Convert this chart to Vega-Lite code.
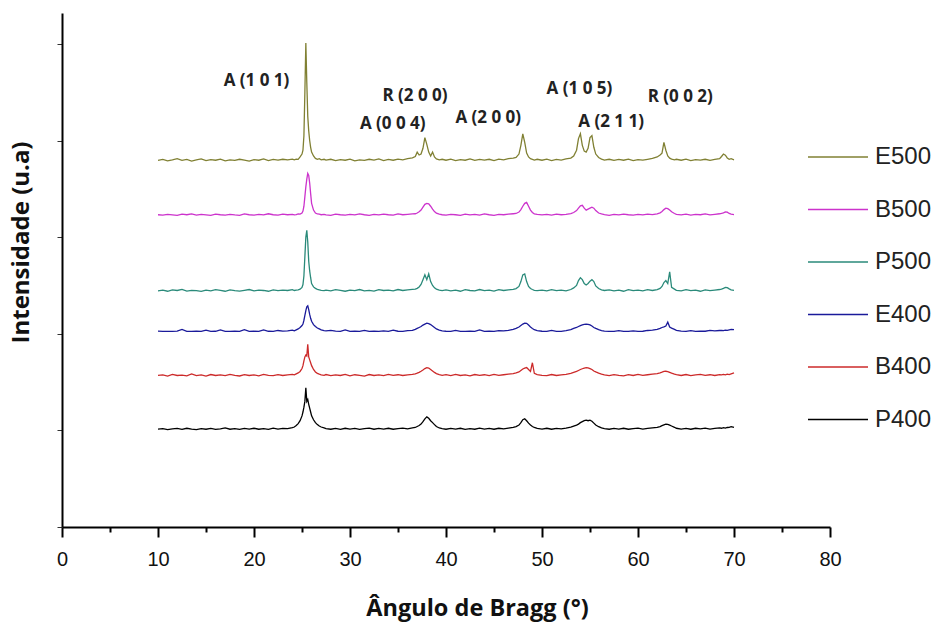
{
  "$schema": "https://vega.github.io/schema/vega-lite/v6.json",
  "width": 768,
  "height": 514,
  "autosize": "none",
  "padding": {"left": 62, "top": 13, "right": 110, "bottom": 95},
  "background": "white",
  "config": {"view": {"stroke": null}, "font": "Liberation Sans"},
  "datasets": {
    "xrd": [
      {"x":10.0,"E500":3.795,"B500":3.232,"P500":2.445,"E400":2.027,"B400":1.570,"P400":1.012},
      {"x":10.5,"E500":3.805,"B500":3.228,"P500":2.452,"E400":2.025,"B400":1.575,"P400":1.018},
      {"x":11.0,"E500":3.790,"B500":3.236,"P500":2.440,"E400":2.025,"B400":1.562,"P400":1.008},
      {"x":11.5,"E500":3.800,"B500":3.230,"P500":2.455,"E400":2.025,"B400":1.580,"P400":1.015},
      {"x":12.0,"E500":3.812,"B500":3.225,"P500":2.448,"E400":2.027,"B400":1.568,"P400":1.020},
      {"x":12.5,"E500":3.795,"B500":3.238,"P500":2.460,"E400":2.045,"B400":1.572,"P400":1.010},
      {"x":13.0,"E500":3.805,"B500":3.232,"P500":2.442,"E400":2.025,"B400":1.565,"P400":1.022},
      {"x":13.5,"E500":3.788,"B500":3.240,"P500":2.450,"E400":2.025,"B400":1.585,"P400":1.012},
      {"x":14.0,"E500":3.800,"B500":3.228,"P500":2.446,"E400":2.026,"B400":1.566,"P400":1.008},
      {"x":14.5,"E500":3.810,"B500":3.235,"P500":2.438,"E400":2.025,"B400":1.574,"P400":1.018},
      {"x":15.0,"E500":3.792,"B500":3.230,"P500":2.452,"E400":2.038,"B400":1.562,"P400":1.012},
      {"x":15.5,"E500":3.802,"B500":3.226,"P500":2.444,"E400":2.025,"B400":1.578,"P400":1.020},
      {"x":16.0,"E500":3.796,"B500":3.238,"P500":2.456,"E400":2.026,"B400":1.568,"P400":1.010},
      {"x":16.5,"E500":3.808,"B500":3.232,"P500":2.448,"E400":2.040,"B400":1.575,"P400":1.016},
      {"x":17.0,"E500":3.790,"B500":3.228,"P500":2.440,"E400":2.025,"B400":1.566,"P400":1.025},
      {"x":17.5,"E500":3.800,"B500":3.236,"P500":2.454,"E400":2.025,"B400":1.580,"P400":1.012},
      {"x":18.0,"E500":3.794,"B500":3.230,"P500":2.446,"E400":2.028,"B400":1.570,"P400":1.018},
      {"x":18.5,"E500":3.806,"B500":3.226,"P500":2.442,"E400":2.025,"B400":1.563,"P400":1.010},
      {"x":19.0,"E500":3.798,"B500":3.240,"P500":2.450,"E400":2.042,"B400":1.576,"P400":1.020},
      {"x":19.5,"E500":3.788,"B500":3.232,"P500":2.458,"E400":2.025,"B400":1.568,"P400":1.014},
      {"x":20.0,"E500":3.802,"B500":3.228,"P500":2.444,"E400":2.026,"B400":1.574,"P400":1.022},
      {"x":20.5,"E500":3.796,"B500":3.236,"P500":2.452,"E400":2.025,"B400":1.565,"P400":1.012},
      {"x":21.0,"E500":3.810,"B500":3.230,"P500":2.448,"E400":2.040,"B400":1.580,"P400":1.018},
      {"x":21.5,"E500":3.792,"B500":3.242,"P500":2.440,"E400":2.026,"B400":1.570,"P400":1.010},
      {"x":22.0,"E500":3.804,"B500":3.232,"P500":2.455,"E400":2.025,"B400":1.566,"P400":1.024},
      {"x":22.5,"E500":3.798,"B500":3.228,"P500":2.446,"E400":2.034,"B400":1.576,"P400":1.014},
      {"x":23.0,"E500":3.806,"B500":3.238,"P500":2.452,"E400":2.027,"B400":1.568,"P400":1.020},
      {"x":23.5,"E500":3.800,"B500":3.232,"P500":2.448,"E400":2.030,"B400":1.574,"P400":1.018},
      {"x":24.0,"E500":3.808,"B500":3.236,"P500":2.456,"E400":2.038,"B400":1.580,"P400":1.028},
      {"x":24.2,"E500":3.800,"B500":3.230,"P500":2.448,"E400":2.030,"B400":1.575,"P400":1.035},
      {"x":24.4,"E500":3.808,"B500":3.234,"P500":2.452,"E400":2.040,"B400":1.585,"P400":1.050},
      {"x":24.6,"E500":3.805,"B500":3.240,"P500":2.455,"E400":2.050,"B400":1.595,"P400":1.070},
      {"x":24.8,"E500":3.830,"B500":3.238,"P500":2.462,"E400":2.065,"B400":1.610,"P400":1.100},
      {"x":25.0,"E500":3.860,"B500":3.250,"P500":2.480,"E400":2.085,"B400":1.640,"P400":1.150},
      {"x":25.1,"E500":3.900,"B500":3.270,"P500":2.510,"E400":2.100,"B400":1.670,"P400":1.190},
      {"x":25.2,"E500":4.050,"B500":3.320,"P500":2.600,"E400":2.140,"B400":1.720,"P400":1.240},
      {"x":25.3,"E500":4.500,"B500":3.420,"P500":2.800,"E400":2.190,"B400":1.760,"P400":1.300},
      {"x":25.4,"E500":5.010,"B500":3.520,"P500":3.000,"E400":2.240,"B400":1.780,"P400":1.440},
      {"x":25.5,"E500":4.600,"B500":3.600,"P500":3.070,"E400":2.280,"B400":1.770,"P400":1.300},
      {"x":25.6,"E500":4.250,"B500":3.660,"P500":2.950,"E400":2.290,"B400":1.890,"P400":1.320},
      {"x":25.7,"E500":4.100,"B500":3.640,"P500":2.750,"E400":2.250,"B400":1.760,"P400":1.270},
      {"x":25.8,"E500":4.000,"B500":3.560,"P500":2.650,"E400":2.200,"B400":1.730,"P400":1.230},
      {"x":25.9,"E500":3.930,"B500":3.450,"P500":2.580,"E400":2.160,"B400":1.700,"P400":1.190},
      {"x":26.0,"E500":3.880,"B500":3.350,"P500":2.520,"E400":2.130,"B400":1.670,"P400":1.150},
      {"x":26.2,"E500":3.840,"B500":3.280,"P500":2.485,"E400":2.095,"B400":1.630,"P400":1.110},
      {"x":26.4,"E500":3.815,"B500":3.250,"P500":2.470,"E400":2.075,"B400":1.605,"P400":1.080},
      {"x":26.6,"E500":3.805,"B500":3.240,"P500":2.460,"E400":2.060,"B400":1.590,"P400":1.060},
      {"x":26.8,"E500":3.812,"B500":3.238,"P500":2.455,"E400":2.050,"B400":1.582,"P400":1.045},
      {"x":27.0,"E500":3.800,"B500":3.232,"P500":2.450,"E400":2.040,"B400":1.575,"P400":1.035},
      {"x":27.3,"E500":3.806,"B500":3.236,"P500":2.446,"E400":2.032,"B400":1.570,"P400":1.025},
      {"x":27.5,"E500":3.798,"B500":3.230,"P500":2.452,"E400":2.030,"B400":1.578,"P400":1.018},
      {"x":28.0,"E500":3.806,"B500":3.226,"P500":2.444,"E400":2.036,"B400":1.566,"P400":1.012},
      {"x":28.5,"E500":3.792,"B500":3.238,"P500":2.456,"E400":2.028,"B400":1.574,"P400":1.020},
      {"x":29.0,"E500":3.802,"B500":3.232,"P500":2.448,"E400":2.025,"B400":1.568,"P400":1.010},
      {"x":29.5,"E500":3.796,"B500":3.228,"P500":2.440,"E400":2.040,"B400":1.580,"P400":1.022},
      {"x":30.0,"E500":3.808,"B500":3.236,"P500":2.452,"E400":2.025,"B400":1.564,"P400":1.014},
      {"x":30.5,"E500":3.790,"B500":3.230,"P500":2.446,"E400":2.026,"B400":1.576,"P400":1.020},
      {"x":31.0,"E500":3.800,"B500":3.240,"P500":2.458,"E400":2.025,"B400":1.570,"P400":1.010},
      {"x":31.5,"E500":3.794,"B500":3.232,"P500":2.444,"E400":2.035,"B400":1.562,"P400":1.018},
      {"x":32.0,"E500":3.806,"B500":3.226,"P500":2.450,"E400":2.025,"B400":1.578,"P400":1.024},
      {"x":32.5,"E500":3.798,"B500":3.236,"P500":2.442,"E400":2.027,"B400":1.568,"P400":1.012},
      {"x":33.0,"E500":3.810,"B500":3.230,"P500":2.456,"E400":2.025,"B400":1.574,"P400":1.020},
      {"x":33.5,"E500":3.792,"B500":3.238,"P500":2.448,"E400":2.030,"B400":1.566,"P400":1.014},
      {"x":34.0,"E500":3.804,"B500":3.232,"P500":2.452,"E400":2.025,"B400":1.580,"P400":1.022},
      {"x":34.5,"E500":3.796,"B500":3.228,"P500":2.444,"E400":2.038,"B400":1.570,"P400":1.012},
      {"x":35.0,"E500":3.808,"B500":3.240,"P500":2.458,"E400":2.026,"B400":1.576,"P400":1.018},
      {"x":35.5,"E500":3.800,"B500":3.232,"P500":2.448,"E400":2.025,"B400":1.568,"P400":1.024},
      {"x":36.0,"E500":3.812,"B500":3.236,"P500":2.454,"E400":2.032,"B400":1.574,"P400":1.016},
      {"x":36.5,"E500":3.820,"B500":3.240,"P500":2.460,"E400":2.035,"B400":1.580,"P400":1.025},
      {"x":36.8,"E500":3.835,"B500":3.242,"P500":2.462,"E400":2.045,"B400":1.585,"P400":1.030},
      {"x":37.0,"E500":3.880,"B500":3.250,"P500":2.470,"E400":2.055,"B400":1.592,"P400":1.040},
      {"x":37.2,"E500":3.850,"B500":3.262,"P500":2.485,"E400":2.065,"B400":1.600,"P400":1.050},
      {"x":37.4,"E500":3.860,"B500":3.280,"P500":2.510,"E400":2.075,"B400":1.612,"P400":1.065},
      {"x":37.6,"E500":3.920,"B500":3.310,"P500":2.560,"E400":2.090,"B400":1.625,"P400":1.090},
      {"x":37.8,"E500":4.030,"B500":3.340,"P500":2.610,"E400":2.100,"B400":1.640,"P400":1.120},
      {"x":38.0,"E500":3.960,"B500":3.350,"P500":2.560,"E400":2.110,"B400":1.650,"P400":1.140},
      {"x":38.2,"E500":3.880,"B500":3.345,"P500":2.620,"E400":2.105,"B400":1.645,"P400":1.125},
      {"x":38.4,"E500":3.840,"B500":3.320,"P500":2.540,"E400":2.095,"B400":1.630,"P400":1.100},
      {"x":38.6,"E500":3.880,"B500":3.290,"P500":2.500,"E400":2.080,"B400":1.615,"P400":1.080},
      {"x":38.8,"E500":3.830,"B500":3.265,"P500":2.475,"E400":2.065,"B400":1.600,"P400":1.060},
      {"x":39.0,"E500":3.810,"B500":3.248,"P500":2.462,"E400":2.050,"B400":1.588,"P400":1.040},
      {"x":39.3,"E500":3.800,"B500":3.238,"P500":2.452,"E400":2.038,"B400":1.578,"P400":1.025},
      {"x":39.6,"E500":3.806,"B500":3.232,"P500":2.446,"E400":2.030,"B400":1.570,"P400":1.018},
      {"x":40.0,"E500":3.796,"B500":3.228,"P500":2.454,"E400":2.026,"B400":1.576,"P400":1.012},
      {"x":40.5,"E500":3.808,"B500":3.236,"P500":2.444,"E400":2.025,"B400":1.566,"P400":1.020},
      {"x":41.0,"E500":3.792,"B500":3.232,"P500":2.452,"E400":2.034,"B400":1.580,"P400":1.014},
      {"x":41.5,"E500":3.802,"B500":3.226,"P500":2.440,"E400":2.025,"B400":1.568,"P400":1.022},
      {"x":42.0,"E500":3.796,"B500":3.238,"P500":2.456,"E400":2.025,"B400":1.574,"P400":1.010},
      {"x":42.5,"E500":3.810,"B500":3.230,"P500":2.448,"E400":2.028,"B400":1.564,"P400":1.018},
      {"x":43.0,"E500":3.794,"B500":3.236,"P500":2.444,"E400":2.025,"B400":1.578,"P400":1.012},
      {"x":43.5,"E500":3.804,"B500":3.228,"P500":2.458,"E400":2.040,"B400":1.570,"P400":1.024},
      {"x":44.0,"E500":3.798,"B500":3.240,"P500":2.446,"E400":2.025,"B400":1.576,"P400":1.014},
      {"x":44.5,"E500":3.806,"B500":3.232,"P500":2.452,"E400":2.026,"B400":1.566,"P400":1.020},
      {"x":45.0,"E500":3.792,"B500":3.226,"P500":2.442,"E400":2.025,"B400":1.580,"P400":1.012},
      {"x":45.5,"E500":3.808,"B500":3.236,"P500":2.456,"E400":2.032,"B400":1.570,"P400":1.022},
      {"x":46.0,"E500":3.800,"B500":3.232,"P500":2.448,"E400":2.030,"B400":1.576,"P400":1.016},
      {"x":46.5,"E500":3.812,"B500":3.238,"P500":2.454,"E400":2.036,"B400":1.582,"P400":1.024},
      {"x":47.0,"E500":3.818,"B500":3.242,"P500":2.460,"E400":2.045,"B400":1.588,"P400":1.032},
      {"x":47.3,"E500":3.825,"B500":3.245,"P500":2.468,"E400":2.055,"B400":1.595,"P400":1.040},
      {"x":47.6,"E500":3.860,"B500":3.260,"P500":2.490,"E400":2.070,"B400":1.605,"P400":1.055},
      {"x":47.8,"E500":3.950,"B500":3.285,"P500":2.540,"E400":2.085,"B400":1.620,"P400":1.080},
      {"x":48.0,"E500":4.070,"B500":3.320,"P500":2.610,"E400":2.100,"B400":1.635,"P400":1.110},
      {"x":48.2,"E500":3.980,"B500":3.350,"P500":2.620,"E400":2.110,"B400":1.645,"P400":1.120},
      {"x":48.4,"E500":3.870,"B500":3.360,"P500":2.540,"E400":2.108,"B400":1.650,"P400":1.100},
      {"x":48.6,"E500":3.830,"B500":3.320,"P500":2.490,"E400":2.090,"B400":1.630,"P400":1.075},
      {"x":48.8,"E500":3.812,"B500":3.280,"P500":2.468,"E400":2.070,"B400":1.610,"P400":1.055},
      {"x":49.0,"E500":3.805,"B500":3.255,"P500":2.458,"E400":2.055,"B400":1.700,"P400":1.040},
      {"x":49.2,"E500":3.798,"B500":3.242,"P500":2.450,"E400":2.042,"B400":1.590,"P400":1.030},
      {"x":49.5,"E500":3.806,"B500":3.236,"P500":2.446,"E400":2.032,"B400":1.578,"P400":1.020},
      {"x":50.0,"E500":3.796,"B500":3.230,"P500":2.452,"E400":2.026,"B400":1.570,"P400":1.014},
      {"x":50.5,"E500":3.808,"B500":3.236,"P500":2.444,"E400":2.025,"B400":1.566,"P400":1.022},
      {"x":51.0,"E500":3.792,"B500":3.228,"P500":2.456,"E400":2.035,"B400":1.578,"P400":1.012},
      {"x":51.5,"E500":3.804,"B500":3.238,"P500":2.446,"E400":2.025,"B400":1.568,"P400":1.020},
      {"x":52.0,"E500":3.798,"B500":3.232,"P500":2.452,"E400":2.025,"B400":1.574,"P400":1.016},
      {"x":52.5,"E500":3.810,"B500":3.236,"P500":2.444,"E400":2.032,"B400":1.580,"P400":1.024},
      {"x":53.0,"E500":3.818,"B500":3.244,"P500":2.458,"E400":2.042,"B400":1.590,"P400":1.034},
      {"x":53.3,"E500":3.840,"B500":3.255,"P500":2.475,"E400":2.055,"B400":1.600,"P400":1.045},
      {"x":53.6,"E500":3.900,"B500":3.275,"P500":2.500,"E400":2.065,"B400":1.610,"P400":1.055},
      {"x":53.8,"E500":4.020,"B500":3.300,"P500":2.550,"E400":2.075,"B400":1.620,"P400":1.065},
      {"x":54.0,"E500":4.070,"B500":3.325,"P500":2.580,"E400":2.085,"B400":1.630,"P400":1.080},
      {"x":54.2,"E500":3.950,"B500":3.330,"P500":2.560,"E400":2.092,"B400":1.638,"P400":1.090},
      {"x":54.4,"E500":3.890,"B500":3.300,"P500":2.520,"E400":2.098,"B400":1.645,"P400":1.100},
      {"x":54.6,"E500":3.880,"B500":3.280,"P500":2.505,"E400":2.100,"B400":1.650,"P400":1.105},
      {"x":54.8,"E500":3.920,"B500":3.290,"P500":2.520,"E400":2.098,"B400":1.648,"P400":1.100},
      {"x":55.0,"E500":4.030,"B500":3.300,"P500":2.545,"E400":2.092,"B400":1.640,"P400":1.105},
      {"x":55.2,"E500":4.050,"B500":3.310,"P500":2.560,"E400":2.080,"B400":1.630,"P400":1.095},
      {"x":55.4,"E500":3.930,"B500":3.300,"P500":2.540,"E400":2.065,"B400":1.615,"P400":1.075},
      {"x":55.6,"E500":3.860,"B500":3.275,"P500":2.495,"E400":2.055,"B400":1.605,"P400":1.055},
      {"x":55.9,"E500":3.825,"B500":3.250,"P500":2.468,"E400":2.042,"B400":1.592,"P400":1.038},
      {"x":56.2,"E500":3.808,"B500":3.240,"P500":2.455,"E400":2.032,"B400":1.582,"P400":1.025},
      {"x":56.5,"E500":3.798,"B500":3.232,"P500":2.448,"E400":2.027,"B400":1.574,"P400":1.018},
      {"x":57.0,"E500":3.806,"B500":3.226,"P500":2.454,"E400":2.025,"B400":1.566,"P400":1.012},
      {"x":57.5,"E500":3.794,"B500":3.236,"P500":2.444,"E400":2.025,"B400":1.578,"P400":1.020},
      {"x":58.0,"E500":3.804,"B500":3.230,"P500":2.452,"E400":2.033,"B400":1.570,"P400":1.014},
      {"x":58.5,"E500":3.796,"B500":3.238,"P500":2.440,"E400":2.025,"B400":1.564,"P400":1.022},
      {"x":59.0,"E500":3.808,"B500":3.232,"P500":2.456,"E400":2.025,"B400":1.576,"P400":1.012},
      {"x":59.5,"E500":3.792,"B500":3.228,"P500":2.446,"E400":2.030,"B400":1.568,"P400":1.018},
      {"x":60.0,"E500":3.802,"B500":3.236,"P500":2.452,"E400":2.025,"B400":1.580,"P400":1.024},
      {"x":60.5,"E500":3.798,"B500":3.230,"P500":2.444,"E400":2.026,"B400":1.570,"P400":1.014},
      {"x":61.0,"E500":3.806,"B500":3.238,"P500":2.456,"E400":2.034,"B400":1.576,"P400":1.020},
      {"x":61.5,"E500":3.815,"B500":3.234,"P500":2.448,"E400":2.038,"B400":1.582,"P400":1.026},
      {"x":62.0,"E500":3.830,"B500":3.242,"P500":2.458,"E400":2.045,"B400":1.588,"P400":1.032},
      {"x":62.3,"E500":3.850,"B500":3.252,"P500":2.470,"E400":2.055,"B400":1.595,"P400":1.040},
      {"x":62.5,"E500":3.870,"B500":3.265,"P500":2.490,"E400":2.065,"B400":1.602,"P400":1.050},
      {"x":62.7,"E500":3.980,"B500":3.285,"P500":2.530,"E400":2.072,"B400":1.610,"P400":1.058},
      {"x":62.9,"E500":3.900,"B500":3.300,"P500":2.550,"E400":2.080,"B400":1.612,"P400":1.065},
      {"x":63.1,"E500":3.840,"B500":3.295,"P500":2.520,"E400":2.120,"B400":1.608,"P400":1.062},
      {"x":63.3,"E500":3.818,"B500":3.280,"P500":2.640,"E400":2.070,"B400":1.600,"P400":1.055},
      {"x":63.5,"E500":3.808,"B500":3.262,"P500":2.480,"E400":2.058,"B400":1.592,"P400":1.045},
      {"x":63.8,"E500":3.800,"B500":3.245,"P500":2.462,"E400":2.045,"B400":1.582,"P400":1.032},
      {"x":64.0,"E500":3.806,"B500":3.236,"P500":2.450,"E400":2.035,"B400":1.576,"P400":1.022},
      {"x":64.5,"E500":3.796,"B500":3.230,"P500":2.444,"E400":2.028,"B400":1.568,"P400":1.014},
      {"x":65.0,"E500":3.808,"B500":3.238,"P500":2.456,"E400":2.025,"B400":1.578,"P400":1.020},
      {"x":65.5,"E500":3.792,"B500":3.228,"P500":2.446,"E400":2.032,"B400":1.566,"P400":1.012},
      {"x":66.0,"E500":3.802,"B500":3.236,"P500":2.452,"E400":2.025,"B400":1.574,"P400":1.022},
      {"x":66.5,"E500":3.798,"B500":3.232,"P500":2.440,"E400":2.028,"B400":1.580,"P400":1.016},
      {"x":67.0,"E500":3.806,"B500":3.240,"P500":2.454,"E400":2.026,"B400":1.570,"P400":1.024},
      {"x":67.5,"E500":3.794,"B500":3.230,"P500":2.446,"E400":2.036,"B400":1.576,"P400":1.014},
      {"x":68.0,"E500":3.804,"B500":3.236,"P500":2.452,"E400":2.030,"B400":1.568,"P400":1.020},
      {"x":68.5,"E500":3.812,"B500":3.242,"P500":2.458,"E400":2.034,"B400":1.578,"P400":1.026},
      {"x":68.7,"E500":3.835,"B500":3.245,"P500":2.462,"E400":2.036,"B400":1.575,"P400":1.022},
      {"x":68.9,"E500":3.860,"B500":3.252,"P500":2.470,"E400":2.032,"B400":1.580,"P400":1.028},
      {"x":69.1,"E500":3.848,"B500":3.262,"P500":2.480,"E400":2.038,"B400":1.574,"P400":1.024},
      {"x":69.3,"E500":3.820,"B500":3.258,"P500":2.478,"E400":2.035,"B400":1.582,"P400":1.030},
      {"x":69.5,"E500":3.806,"B500":3.245,"P500":2.465,"E400":2.040,"B400":1.578,"P400":1.032},
      {"x":69.7,"E500":3.812,"B500":3.238,"P500":2.455,"E400":2.045,"B400":1.585,"P400":1.038},
      {"x":70.0,"E500":3.800,"B500":3.234,"P500":2.448,"E400":2.042,"B400":1.595,"P400":1.030}
    ],
    "picos": [
      {"x":20.26,"y":4.62,"rotulo":"A (1 0 1)"},
      {"x":36.77,"y":4.46,"rotulo":"R (2 0 0)"},
      {"x":34.45,"y":4.17,"rotulo":"A (0 0 4)"},
      {"x":44.4,"y":4.23,"rotulo":"A (2 0 0)"},
      {"x":53.9,"y":4.53,"rotulo":"A (1 0 5)"},
      {"x":57.2,"y":4.19,"rotulo":"A (2 1 1)"},
      {"x":64.4,"y":4.45,"rotulo":"R (0 0 2)"}
    ]
  },
  "layer": [
    {
      "data": {"name": "xrd"},
      "transform": [{"fold": ["E500","B500","P500","E400","B400","P400"], "as": ["amostra","I"]}],
      "mark": {"type": "line", "strokeWidth": 1.3},
      "encoding": {
        "x": {
          "field": "x", "type": "quantitative",
          "scale": {"domain": [0, 80], "nice": false, "zero": false},
          "axis": {
            "title": "Ângulo de Bragg (°)",
            "values": [0,5,10,15,20,25,30,35,40,45,50,55,60,65,70,75,80],
            "labelExpr": "datum.value % 10 === 0 ? datum.label : ''",
            "tickSize": {"condition": {"test": "datum.value % 10 === 0", "value": 10}, "value": 5},
            "tickWidth": 2, "tickColor": "#000",
            "domainColor": "#000", "domainWidth": 2,
            "labelFont": "Liberation Sans", "labelFontSize": 20, "labelColor": "#111",
            "labelPadding": 12, "labelFlush": false, "labelOverlap": false,
            "grid": false,
            "titleFont": "Open Sans", "titleFontSize": 23.5, "titleFontWeight": "bold", "titleColor": "#111",
            "titleX": 415, "titleY": 81, "titleBaseline": "middle"
          }
        },
        "y": {
          "field": "I", "type": "quantitative",
          "scale": {"domain": [0, 5.32], "nice": false, "zero": false},
          "axis": {
            "title": "Intensidade (u.a)",
            "values": [0,1,2,3,4,5],
            "labels": false,
            "tickSize": 5, "tickWidth": 1, "tickColor": "#333",
            "domainColor": "#000", "domainWidth": 2,
            "grid": false,
            "titleFont": "Open Sans", "titleFontSize": 24, "titleFontWeight": "bold", "titleColor": "#111",
            "titleX": -41, "titleY": 229, "titleBaseline": "middle"
          }
        },
        "color": {
          "field": "amostra", "type": "nominal",
          "scale": {
            "domain": ["E500","B500","P500","E400","B400","P400"],
            "range": ["#808033","#cc33cc","#2a8a7a","#1a1a9a","#cc2a2a","#000000"]
          },
          "legend": {
            "title": null, "orient": "none", "legendX": 745, "legendY": 113,
            "symbolType": "stroke", "symbolSize": 3600, "symbolStrokeWidth": 1.5,
            "labelFont": "Liberation Sans", "labelFontSize": 24, "labelColor": "#222",
            "labelOffset": 6, "rowPadding": 9.5, "labelLimit": 200
          }
        }
      }
    },
    {
      "data": {"name": "picos"},
      "mark": {"type": "text", "font": "Open Sans", "fontWeight": "bold", "fontSize": 17, "color": "#222", "baseline": "middle", "align": "center"},
      "encoding": {
        "x": {"field": "x", "type": "quantitative"},
        "y": {"field": "y", "type": "quantitative"},
        "text": {"field": "rotulo"}
      }
    }
  ]
}
